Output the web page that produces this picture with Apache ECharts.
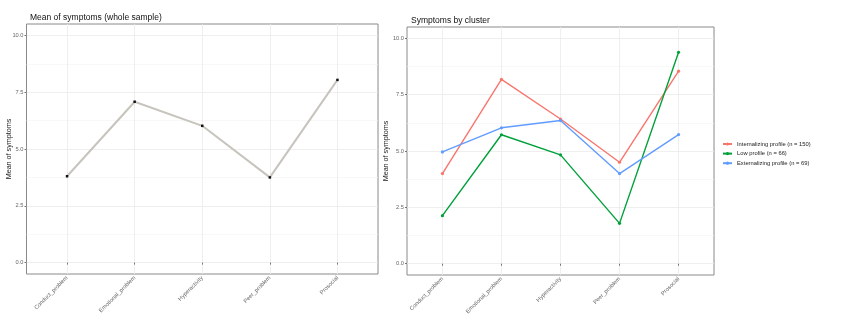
<!DOCTYPE html>
<html><head><meta charset="utf-8">
<script src="https://cdn.jsdelivr.net/npm/echarts@6/dist/echarts.min.js"></script>
<style>html,body{margin:0;padding:0;background:#fff}#c{width:845px;height:326px}</style>
</head><body><div id="c"></div>
<script>
var categories = ['Conduct_problem','Emotional_problem','Hyperactivity','Peer_problem','Prosocial'];
var wholeSample = [3.8, 7.08, 6.02, 3.75, 8.04];
var internalizing = [4.0, 8.18, 6.42, 4.5, 8.54];
var lowProfile = [2.13, 5.72, 4.83, 1.79, 9.38];
var externalizing = [4.96, 6.03, 6.35, 4.0, 5.73];
var seriesNames = ['Internalizing profile (n = 150)','Low profile (n = 66)','Externalizing profile (n = 69)'];
var yTicks = [0, 2.5, 5, 7.5, 10];
var yMinor = [1.25, 3.75, 6.25, 8.75];
var titles = ['Mean of symptoms (whole sample)', 'Symptoms by cluster'];
var yTitle = 'Mean of symptoms';

var FONT = 'Liberation Sans, Arial, sans-serif';
var xPos = categories.map(function(c,i){return i+1;});
function pts(v){return categories.map(function(c,i){return [i+1, v[i]];});}

var grids = [
  {left:26.5, right:467, top:24, bottom:52},
  {left:407, right:131, top:27, bottom:51}
];
var nameGaps = [14, 17];
var xAxes = [], yAxes = [];
grids.forEach(function(g, gi){
  g.show = true; g.borderColor = '#8a8a8a'; g.borderWidth = 1; g.backgroundColor = '#fff'; g.containLabel = false;
  xAxes.push({
    type:'value', gridIndex:gi, min:0.4, max:5.6,
    axisLine:{show:false},
    axisTick:{show:true, length:2, customValues:xPos, lineStyle:{color:'#555', width:0.8}},
    axisLabel:{customValues:xPos, rotate:45, fontSize:5.7, color:'#666', margin:3, fontFamily:FONT,
      formatter:function(v){return categories[Math.round(v)-1] || '';}},
    splitLine:{show:true, lineStyle:{color:'#ebebeb', width:0.8}}
  });
  yAxes.push({
    type:'value', gridIndex:gi, min:-0.5, max:10.5,
    name: yTitle, nameLocation:'middle', nameGap:nameGaps[gi], nameRotate:90, nameMoveOverlap:false,
    nameTextStyle:{fontSize:7.2, color:'#222', fontFamily:FONT},
    axisLine:{show:false},
    axisTick:{show:true, length:2, customValues:yTicks, lineStyle:{color:'#555', width:0.8}},
    axisLabel:{customValues:yTicks, fontSize:5.7, color:'#666', margin:3, fontFamily:FONT,
      formatter:function(v){return v.toFixed(1);}},
    splitLine:{show:true, lineStyle:{color:'#ebebeb', width:0.8}}
  });
  yAxes.push({
    type:'value', gridIndex:gi, min:-0.5, max:10.5,
    axisLine:{show:false},
    axisTick:{show:false, customValues:yMinor},
    axisLabel:{show:false, customValues:yMinor},
    splitLine:{show:true, lineStyle:{color:'#f4f4f4', width:0.6}}
  });
});

var colors = ['#F8766D', '#00A03A', '#619CFF'];
var clusterData = [internalizing, lowProfile, externalizing];

var series = [{
  type:'line', xAxisIndex:0, yAxisIndex:0, data:pts(wholeSample),
  lineStyle:{color:'#c6c4bc', width:2}, symbol:'rect', symbolSize:2.5,
  itemStyle:{color:'#111'}, z:3, animation:false
}];
clusterData.forEach(function(d, i){
  series.push({
    type:'line', name:seriesNames[i], xAxisIndex:1, yAxisIndex:2, data:pts(d),
    lineStyle:{color:colors[i], width:1.4}, symbol:'circle', symbolSize:3.2,
    itemStyle:{color:colors[i]}, z:3+i, animation:false
  });
});

var chart = echarts.init(document.getElementById('c'), null, {renderer:'canvas'});
chart.setOption({
  animation:false,
  title:[
    {text:titles[0], left:25, top:8, textStyle:{fontSize:8.5, fontWeight:'normal', color:'#111', fontFamily:FONT}},
    {text:titles[1], left:406, top:11, textStyle:{fontSize:8.5, fontWeight:'normal', color:'#111', fontFamily:FONT}}
  ],
  grid:grids, xAxis:xAxes, yAxis:yAxes, series:series,
  legend:{data:seriesNames, orient:'vertical', left:722, top:141, padding:0, itemWidth:9, itemHeight:4, itemGap:3.6,
    textStyle:{fontSize:5.8, color:'#222', fontFamily:FONT}}
});
</script></body></html>
